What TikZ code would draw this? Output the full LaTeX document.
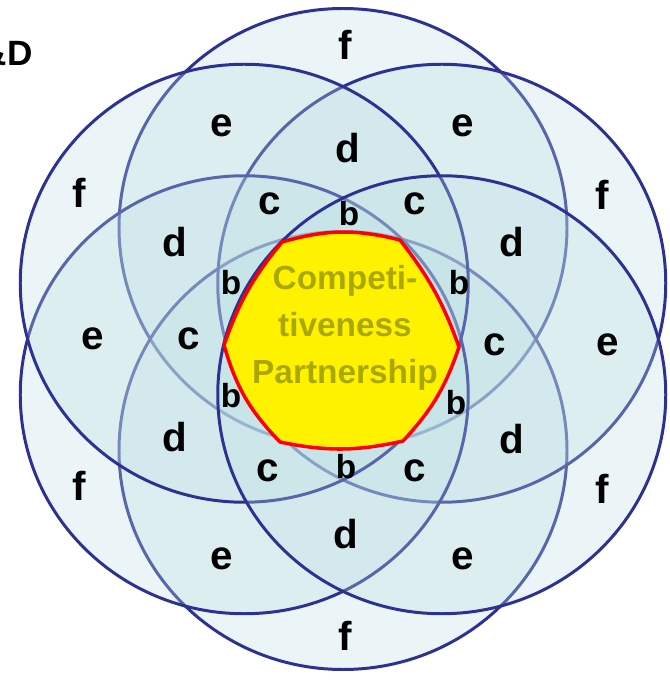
\documentclass[tikz,border=0pt]{standalone}
\usepackage{fontspec}
\setmainfont{Liberation Sans}
\definecolor{borde}{RGB}{46,49,146}
\definecolor{relleno}{RGB}{188,222,228}
\definecolor{oliva}{RGB}{170,168,0}
\begin{document}
\begin{tikzpicture}[anillo/.style={draw=borde,line width=1.7pt,fill=relleno,fill opacity=0.3},
  letra/.style={font=\fontsize{23}{23}\selectfont\bfseries,inner sep=0pt},
  letrab/.style={font=\fontsize{19}{19}\selectfont\bfseries,inner sep=0pt}]
  \useasboundingbox (-6.86,-6.88) rectangle (6.52,6.78);

  % Seis elipses (arriba, abajo, der. arriba, izq. abajo, izq. arriba, der. abajo)
  \foreach \x/\y in {0/2.23, 0/-2.23, 1.975/1.115, -1.975/-1.115, -1.975/1.115, 1.975/-1.115}
    \draw[anillo] (\x,\y) ellipse [x radius=4.48, y radius=4.38];

  % Hexagono central
  \coordinate (h1) at (-1.22,1.94);
  \coordinate (h2) at (1.14,1.98);
  \coordinate (h3) at (2.32,-0.16);
  \coordinate (h4) at (1.20,-2.04);
  \coordinate (h5) at (-1.26,-2.06);
  \coordinate (h6) at (-2.38,-0.12);
  \draw[draw=red,line width=2pt,fill=yellow,line join=round]
    (h1) to[bend left=15] (h2) to[bend left=9] (h3) to[bend left=12] (h4)
    to[bend left=12] (h5) to[bend left=14] (h6) to[bend left=10] (h1) -- cycle;
  \node[text=oliva,font=\fontsize{19}{26.7}\selectfont\bfseries,align=center] (lema) at (0.04,0.22)
    {Competi-\\tiveness\\Partnership};

  % Letras de las zonas
  \foreach \n/\x/\y in {f1/0.04/5.88, f2/-5.28/2.92, f3/5.18/2.88, f4/-5.28/-2.94, f5/5.18/-3.0, f6/0.04/-5.94}
    \node[letra] (\n) at (\x,\y) {f};
  \foreach \n/\x/\y in {e1/-2.42/4.26, e2/2.4/4.26, e3/-5.0/0, e4/5.3/-0.12, e5/-2.42/-4.4, e6/2.4/-4.4}
    \node[letra] (\n) at (\x,\y) {e};
  \foreach \n/\x/\y in {d1/0.1/3.82, d2/-3.36/1.94, d3/3.38/1.94, d4/-3.36/-1.96, d5/3.38/-2.0, d6/0.06/-3.9}
    \node[letra] (\n) at (\x,\y) {d};
  \foreach \n/\x/\y in {c1/-1.46/2.7, c2/1.44/2.7, c3/-3.08/0, c4/3.04/-0.12, c5/-1.5/-2.64, c6/1.44/-2.64}
    \node[letra] (\n) at (\x,\y) {c};
  \foreach \n/\x/\y in {b1/0.12/2.5, b2/-2.24/1.12, b3/2.32/1.12, b4/-2.24/-1.14, b5/2.26/-1.28, b6/0.06/-2.56}
    \node[letrab] (\n) at (\x,\y) {b};

  % Titulo recortado
  \node[font=\fontsize{20}{20}\selectfont\bfseries,anchor=east,inner sep=0pt] (rd) at (-6.2,5.7) {R\&D};
\end{tikzpicture}
\end{document}
